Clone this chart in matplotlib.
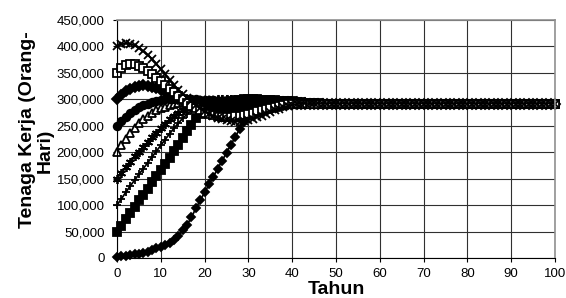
import numpy as np
import matplotlib
matplotlib.use("Agg")
from matplotlib import pyplot as plt
from matplotlib.ticker import FuncFormatter

# tahun 0..100
tahun = np.arange(0, 101)

# nilai tenaga kerja (ribu orang-hari)
s400 = [400, 404, 406, 405, 402, 397, 391, 384, 376, 367, 357, 347, 337, 327, 318, 310, 303, 296, 289, 283,
        277, 272, 268, 265, 262, 260, 259, 258, 258, 259, 261, 263, 266, 269, 273, 276, 279, 282, 285, 287,
        289, 291, 292, 293, 293, 293, 293, 292, 292, 292, 292, 292, 292, 292, 292, 292, 292, 292, 292, 292,
        292, 292, 292, 292, 292, 292, 292, 292, 292, 292, 292, 292, 292, 292, 292, 292, 292, 292, 292, 292,
        292, 292, 292, 292, 292, 292, 292, 292, 292, 292, 292, 292, 292, 292, 292, 292, 292, 292, 292, 292, 292]
s350 = [350, 359, 365, 367, 366, 363, 359, 354, 348, 341, 334, 327, 320, 313, 306, 300, 294, 288, 283, 279,
        275, 272, 270, 268, 267, 267, 267, 268, 269, 271, 273, 275, 277, 280, 282, 284, 286, 288, 290, 291,
        292, 292, 292, 292, 292, 292, 292, 292, 292, 292, 292, 292, 292, 292, 292, 292, 292, 292, 292, 292,
        292, 292, 292, 292, 292, 292, 292, 292, 292, 292, 292, 292, 292, 292, 292, 292, 292, 292, 292, 292,
        292, 292, 292, 292, 292, 292, 292, 292, 292, 292, 292, 292, 292, 292, 292, 292, 292, 292, 292, 292, 292]
s300 = [300, 308, 315, 320, 324, 326, 327, 326, 324, 321, 318, 314, 310, 305, 300, 296, 292, 289, 286, 284,
        282, 281, 280, 279, 279, 279, 279, 280, 281, 282, 283, 284, 285, 286, 287, 288, 289, 290, 291, 291,
        292, 292, 292, 292, 292, 292, 292, 292, 292, 292, 292, 292, 292, 292, 292, 292, 292, 292, 292, 292,
        292, 292, 292, 292, 292, 292, 292, 292, 292, 292, 292, 292, 292, 292, 292, 292, 292, 292, 292, 292,
        292, 292, 292, 292, 292, 292, 292, 292, 292, 292, 292, 292, 292, 292, 292, 292, 292, 292, 292, 292, 292]
s250 = [250, 259, 267, 274, 280, 285, 289, 292, 295, 297, 299, 300, 301, 301, 301, 301, 301, 300, 300, 299,
        299, 298, 298, 297, 297, 296, 296, 295, 295, 294, 294, 293, 293, 293, 292, 292, 292, 292, 292, 292,
        292, 292, 292, 292, 292, 292, 292, 292, 292, 292, 292, 292, 292, 292, 292, 292, 292, 292, 292, 292,
        292, 292, 292, 292, 292, 292, 292, 292, 292, 292, 292, 292, 292, 292, 292, 292, 292, 292, 292, 292,
        292, 292, 292, 292, 292, 292, 292, 292, 292, 292, 292, 292, 292, 292, 292, 292, 292, 292, 292, 292, 292]
s200 = [200, 213, 225, 236, 246, 255, 262, 268, 274, 279, 283, 286, 289, 291, 293, 295, 296, 297, 298, 298,
        299, 299, 299, 299, 299, 298, 298, 298, 297, 297, 296, 296, 295, 295, 294, 294, 293, 293, 293, 292,
        292, 292, 292, 292, 292, 292, 292, 292, 292, 292, 292, 292, 292, 292, 292, 292, 292, 292, 292, 292,
        292, 292, 292, 292, 292, 292, 292, 292, 292, 292, 292, 292, 292, 292, 292, 292, 292, 292, 292, 292,
        292, 292, 292, 292, 292, 292, 292, 292, 292, 292, 292, 292, 292, 292, 292, 292, 292, 292, 292, 292, 292]
s150 = [150, 161, 172, 182, 192, 201, 210, 219, 228, 237, 246, 254, 262, 269, 275, 280, 285, 289, 292, 295,
        297, 298, 299, 300, 300, 300, 299, 299, 298, 298, 297, 297, 296, 296, 295, 295, 294, 294, 293, 293,
        292, 292, 292, 292, 292, 292, 292, 292, 292, 292, 292, 292, 292, 292, 292, 292, 292, 292, 292, 292,
        292, 292, 292, 292, 292, 292, 292, 292, 292, 292, 292, 292, 292, 292, 292, 292, 292, 292, 292, 292,
        292, 292, 292, 292, 292, 292, 292, 292, 292, 292, 292, 292, 292, 292, 292, 292, 292, 292, 292, 292, 292]
s100 = [100, 112, 124, 136, 147, 158, 169, 180, 191, 202, 213, 224, 235, 245, 255, 264, 272, 279, 285, 289,
        293, 296, 298, 299, 300, 300, 300, 300, 299, 299, 298, 298, 297, 297, 296, 296, 295, 295, 294, 294,
        293, 293, 292, 292, 292, 292, 292, 292, 292, 292, 292, 292, 292, 292, 292, 292, 292, 292, 292, 292,
        292, 292, 292, 292, 292, 292, 292, 292, 292, 292, 292, 292, 292, 292, 292, 292, 292, 292, 292, 292,
        292, 292, 292, 292, 292, 292, 292, 292, 292, 292, 292, 292, 292, 292, 292, 292, 292, 292, 292, 292, 292]
s50 = [50, 61, 73, 85, 97, 109, 120, 131, 143, 155, 166, 178, 190, 202, 214, 227, 240, 252, 264, 272,
       278, 283, 287, 290, 293, 295, 297, 298, 299, 300, 300, 300, 300, 299, 299, 298, 298, 297, 297, 296,
       296, 295, 295, 294, 294, 293, 293, 292, 292, 292, 292, 292, 292, 292, 292, 292, 292, 292, 292, 292,
       292, 292, 292, 292, 292, 292, 292, 292, 292, 292, 292, 292, 292, 292, 292, 292, 292, 292, 292, 292,
       292, 292, 292, 292, 292, 292, 292, 292, 292, 292, 292, 292, 292, 292, 292, 292, 292, 292, 292, 292, 292]
s0 = [2, 3, 4, 5, 7, 8, 10, 12, 15, 18, 21, 24, 28, 34, 42, 52, 63, 77, 94, 109,
      124, 139, 154, 169, 184, 199, 214, 229, 244, 258, 270, 279, 285, 290, 293, 295, 296, 297, 297, 297,
      296, 296, 295, 295, 294, 294, 293, 293, 292, 292, 292, 292, 292, 292, 292, 292, 292, 292, 292, 292,
      292, 292, 292, 292, 292, 292, 292, 292, 292, 292, 292, 292, 292, 292, 292, 292, 292, 292, 292, 292,
      292, 292, 292, 292, 292, 292, 292, 292, 292, 292, 292, 292, 292, 292, 292, 292, 292, 292, 292, 292, 292]

seri = [s0, s50, s100, s150, s200, s250, s300, s350, s400]
# marker: (bentuk, ukuran, isi)
gaya = [('D', 4.2, 'black'), ('s', 5.5, 'black'), ('+', 6, 'black'), ((6, 2, 0), 6.5, 'black'),
        ('^', 5.5, 'white'), ('o', 5.5, 'black'), ('D', 5.2, 'black'), ('s', 5.5, 'white'),
        ('x', 6, 'black')]

plt.rcParams['font.family'] = ['Liberation Sans', 'DejaVu Sans']

fig = plt.figure(figsize=(5.66, 2.98), dpi=100)
ax = fig.add_axes([117 / 566, 40 / 298, 438 / 566, 238 / 298])

for y, (m, ms, fc) in zip(seri, gaya):
    ax.plot(tahun, np.array(y) * 1000, color='black', lw=1.3, marker=m, ms=ms,
            mfc=fc, mec='black', mew=1.3, clip_on=False)

ax.set_xlim(0, 100)
ax.set_ylim(0, 450000)
ax.set_xticks(np.arange(0, 101, 10))
ax.set_yticks(np.arange(0, 450001, 50000))
ax.yaxis.set_major_formatter(FuncFormatter(lambda v, p: f'{int(v):,}'))
ax.grid(True, color='#303030', lw=0.8)
ax.set_axisbelow(True)
ax.tick_params(direction='out', length=3, width=0.8, labelsize=9.5, pad=4)
ax.tick_params(axis='y', pad=6)
for s in ['top', 'right']:
    ax.spines[s].set_color('#909090')
    ax.spines[s].set_linewidth(1.2)
for s in ['left', 'bottom']:
    ax.spines[s].set_color('black')

# label sumbu
fig.text(336 / 566, 1 - 290 / 298, 'Tahun', ha='center', va='center',
         fontsize=14, fontweight='bold')
fig.text(28 / 566, 1 - 130 / 298, 'Tenaga Kerja (Orang-', ha='center', va='center',
         rotation=90, fontsize=14, fontweight='bold')
fig.text(45 / 566, 1 - 151 / 298, 'Hari)', ha='center', va='center',
         rotation=90, fontsize=14, fontweight='bold')

fig.savefig('out.png', dpi=100)
